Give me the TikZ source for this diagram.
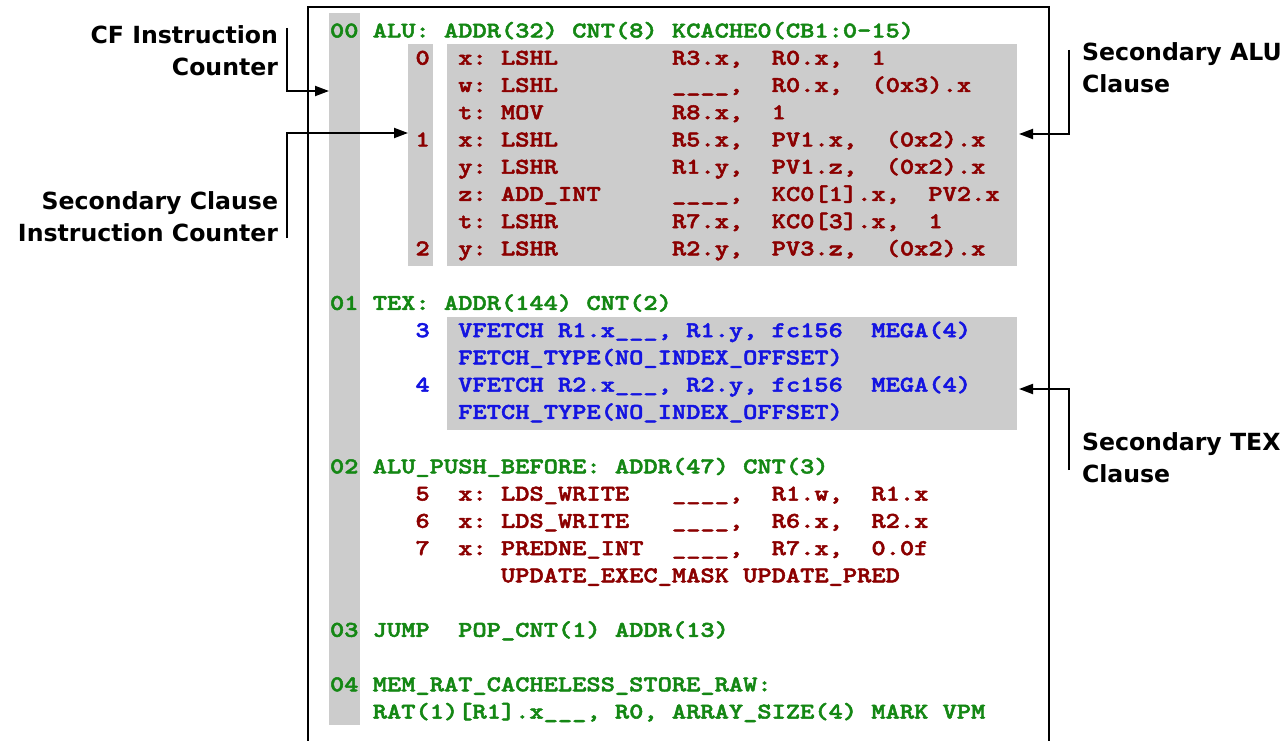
\documentclass[tikz,border=0pt]{standalone}
\usepackage{fontspec}
\newfontfamily\codefont[FakeStretch=1.206,FakeBold=2.2]{lmmonolt10-bold.otf}
\newfontfamily\labfont{DejaVu Sans}
\usetikzlibrary{arrows.meta}
\definecolor{cgreen}{RGB}{20,135,20}
\definecolor{cred}{RGB}{139,0,0}
\definecolor{cblue}{RGB}{20,20,225}
\definecolor{cgray}{RGB}{204,204,204}
\newcommand\codeat[5]{\node[codetxt,text=#4] (#1) at ({330+#2*14.25},{37.5+#3*27.24}) {#5};}
\begin{document}
\begin{tikzpicture}[x=1pt,y=-1pt,
  codetxt/.style={anchor=base west, inner sep=0pt, outer sep=0pt, font=\codefont\fontsize{22.5}{27}\selectfont},
  labtxt/.style={inner sep=0pt, outer sep=0pt, font=\labfont\bfseries\fontsize{23.6}{28}\selectfont},
  graybox/.style={fill=cgray, draw=none, inner sep=0pt, outer sep=0pt, anchor=north west},
  frameline/.style={line width=2pt},
  arr/.style={line width=2pt, -{Triangle[length=14pt,width=10pt]}}]
\useasboundingbox (0,0) rectangle (1288,741);
% gray backgrounds
\node[graybox, minimum width=31, minimum height=712] (cfcol) at (329,13) {};
\node[graybox, minimum width=25, minimum height=222] (alunum) at (408,44) {};
\node[graybox, minimum width=570, minimum height=222] (alubox) at (447,44) {};
\node[graybox, minimum width=570, minimum height=113] (texbox) at (447,317) {};
% frame
\draw[frameline] (308,760) -- (308,7) -- (1049,7) -- (1049,760);
% CF 00 ALU
\codeat{c00}{0}{0}{cgreen}{00}
\codeat{c00b}{3}{0}{cgreen}{ALU:~ADDR(32)~CNT(8)~KCACHE0(CB1:0-15)}
\codeat{n0}{6}{1}{cred}{0}
\codeat{a1}{9}{1}{cred}{x:~LSHL}
\codeat{b1}{24}{1}{cred}{R3.x,~~R0.x,~~1}
\codeat{a2}{9}{2}{cred}{w:~LSHL}
\codeat{b2}{24}{2}{cred}{\_\_\_\_,~~R0.x,~~(0x3).x}
\codeat{a3}{9}{3}{cred}{t:~MOV}
\codeat{b3}{24}{3}{cred}{R8.x,~~1}
\codeat{n1}{6}{4}{cred}{1}
\codeat{a4}{9}{4}{cred}{x:~LSHL}
\codeat{b4}{24}{4}{cred}{R5.x,~~PV1.x,~~(0x2).x}
\codeat{a5}{9}{5}{cred}{y:~LSHR}
\codeat{b5}{24}{5}{cred}{R1.y,~~PV1.z,~~(0x2).x}
\codeat{a6}{9}{6}{cred}{z:~ADD\_INT}
\codeat{b6}{24}{6}{cred}{\_\_\_\_,~~KC0[1].x,~~PV2.x}
\codeat{a7}{9}{7}{cred}{t:~LSHR}
\codeat{b7}{24}{7}{cred}{R7.x,~~KC0[3].x,~~1}
\codeat{n2}{6}{8}{cred}{2}
\codeat{a8}{9}{8}{cred}{y:~LSHR}
\codeat{b8}{24}{8}{cred}{R2.y,~~PV3.z,~~(0x2).x}
% CF 01 TEX
\codeat{c01}{0}{10}{cgreen}{01}
\codeat{c01b}{3}{10}{cgreen}{TEX:~ADDR(144)~CNT(2)}
\codeat{n3}{6}{11}{cblue}{3}
\codeat{t1}{9}{11}{cblue}{VFETCH~R1.x\_\_\_,~R1.y,~fc156~~MEGA(4)}
\codeat{t2}{9}{12}{cblue}{FETCH\_TYPE(NO\_INDEX\_OFFSET)}
\codeat{n4}{6}{13}{cblue}{4}
\codeat{t3}{9}{13}{cblue}{VFETCH~R2.x\_\_\_,~R2.y,~fc156~~MEGA(4)}
\codeat{t4}{9}{14}{cblue}{FETCH\_TYPE(NO\_INDEX\_OFFSET)}
% CF 02
\codeat{c02}{0}{16}{cgreen}{02}
\codeat{c02b}{3}{16}{cgreen}{ALU\_PUSH\_BEFORE:~ADDR(47)~CNT(3)}
\codeat{n5}{6}{17}{cred}{5}
\codeat{p1}{9}{17}{cred}{x:~LDS\_WRITE}
\codeat{q1}{24}{17}{cred}{\_\_\_\_,~~R1.w,~~R1.x}
\codeat{n6}{6}{18}{cred}{6}
\codeat{p2}{9}{18}{cred}{x:~LDS\_WRITE}
\codeat{q2}{24}{18}{cred}{\_\_\_\_,~~R6.x,~~R2.x}
\codeat{n7}{6}{19}{cred}{7}
\codeat{p3}{9}{19}{cred}{x:~PREDNE\_INT}
\codeat{q3}{24}{19}{cred}{\_\_\_\_,~~R7.x,~~0.0f}
\codeat{p4}{12}{20}{cred}{UPDATE\_EXEC\_MASK~UPDATE\_PRED}
% CF 03
\codeat{c03}{0}{22}{cgreen}{03}
\codeat{c03b}{3}{22}{cgreen}{JUMP~~POP\_CNT(1)~ADDR(13)}
% CF 04
\codeat{c04}{0}{24}{cgreen}{04}
\codeat{c04b}{3}{24}{cgreen}{MEM\_RAT\_CACHELESS\_STORE\_RAW:}
\codeat{c04c}{3}{25}{cgreen}{RAT(1)[R1].x\_\_\_,~R0,~ARRAY\_SIZE(4)~MARK~VPM}
% labels
\node[labtxt, anchor=base east] (lcf1) at (278,44) {CF Instruction};
\node[labtxt, anchor=base east] (lcf2) at (278,76) {Counter};
\node[labtxt, anchor=base east] (lsc1) at (278,209) {Secondary Clause};
\node[labtxt, anchor=base east] (lsc2) at (278,241) {Instruction Counter};
\node[labtxt, anchor=base west] (lalu1) at (1082,61) {Secondary ALU};
\node[labtxt, anchor=base west] (lalu2) at (1082,93) {Clause};
\node[labtxt, anchor=base west] (ltex1) at (1082,450) {Secondary TEX};
\node[labtxt, anchor=base west] (ltex2) at (1082,482) {Clause};
% connectors
\coordinate (cfA) at (287,28);
\coordinate (cfB) at (287,91);
\draw[arr] (cfA) -- (cfB) -- (cfcol.west |- cfB);
\coordinate (scA) at (287,238);
\coordinate (scB) at (287,133);
\draw[arr] (scA) -- (scB) -- (alunum.west |- scB);
\coordinate (aluA) at (1069,50);
\coordinate (aluB) at (1069,134);
\draw[arr, shorten >=2pt] (aluA) -- (aluB) -- (alubox.east |- aluB);
\coordinate (texA) at (1069,470);
\coordinate (texB) at (1069,389);
\draw[arr, shorten >=2pt] (texA) -- (texB) -- (texbox.east |- texB);
\end{tikzpicture}
\end{document}
